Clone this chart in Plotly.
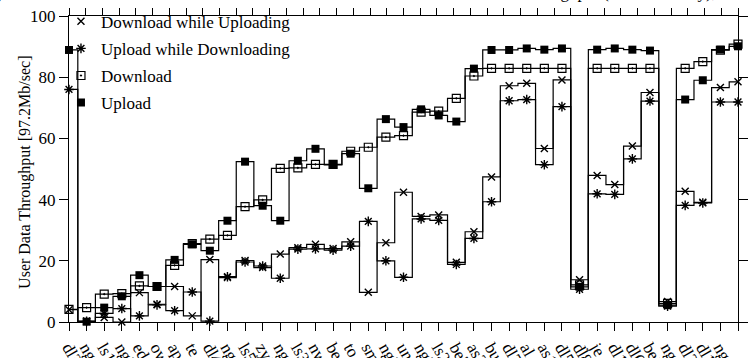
import plotly.graph_objects as go

categories = ["dl3","ng10","ls1","ng7","ed","owrt","ap","te","dl4","ng6","ls5","zy1","ng8","ls3",
              "nw1","be4","to","smc","ng3","un1","ng2","ls2","be3","as2","bu1","dl7","al","as1",
              "dl5","dl8","je","dl1","dl6","be1","ng4","dl2","dl11","ng1","we"]

download_while_uploading = [4.0, 0.3, 1.5, 0.0, 9.6, 5.8, 11.6, 2.0, 20.4, 14.5, 20.1, 17.8, 22.2, 24.3,
                            25.4, 24.0, 26.2, 9.7, 25.9, 42.4, 34.5, 35.0, 19.5, 29.5, 47.4, 77.2, 78.0, 56.7,
                            79.1, 13.8, 47.9, 44.9, 57.5, 75.0, 6.7, 42.7, 39.1, 76.6, 78.5]
upload_while_downloading = [76.0, 0.2, 2.8, 4.4, 2.0, 5.6, 3.7, 9.8, 0.3, 14.8, 19.6, 18.3, 14.3, 23.8,
                            23.9, 23.5, 24.8, 32.9, 20.0, 14.6, 33.7, 33.2, 18.8, 27.3, 39.3, 72.3, 72.7, 51.4,
                            70.4, 10.7, 41.9, 41.7, 53.3, 72.2, 5.2, 38.1, 38.9, 71.9, 71.9]
download = [4.1, 4.7, 9.1, 9.3, 11.8, 11.6, 18.5, 25.6, 27.1, 28.3, 37.7, 39.9, 50.2, 50.4,
            51.5, 51.5, 55.8, 57.1, 60.4, 60.9, 68.6, 68.9, 73.1, 80.4, 82.9, 82.9, 82.9, 82.9,
            82.9, 12.1, 82.9, 82.9, 82.9, 82.9, 6.1, 82.9, 85.1, 88.8, 90.8]
upload = [88.9, 0.1, 4.7, 8.4, 15.3, 11.6, 20.3, 25.4, 23.3, 33.1, 52.4, 38.0, 33.1, 52.7,
          56.6, 51.3, 55.0, 43.7, 66.3, 63.7, 69.5, 67.5, 65.5, 82.8, 88.9, 88.9, 89.4, 89.0,
          89.4, 11.5, 89.0, 89.4, 89.0, 88.7, 5.5, 72.7, 79.0, 89.0, 90.1]

series_names = ["Download while Uploading", "Upload while Downloading", "Download", "Upload"]
y_ticks = [0, 20, 40, 60, 80, 100]
y_title = "User Data Throughput [97.2Mb/sec]"
chart_title = ("Symmetric Simultaneous Bidirectional Transfers Across All Links: "
               "User Data Throughput (Wireless Only),")

FONT = "Liberation Serif, Times New Roman, serif"
xs = list(range(len(categories)))

styles = [
    dict(symbol="x-thin-open", size=7, line=dict(width=1.4, color="black"), color="black"),
    dict(symbol="asterisk-open", size=8, line=dict(width=1.4, color="black"), color="black"),
    dict(symbol="square-open-dot", size=8, line=dict(width=1.2, color="black"), color="black"),
    dict(symbol="square", size=8, line=dict(width=0, color="black"), color="black"),
]
data = [download_while_uploading, upload_while_downloading, download, upload]

fig = go.Figure()
for name, vals, st in zip(series_names, data, styles):
    fig.add_trace(go.Scatter(
        x=xs, y=vals, mode="lines+markers", line=dict(shape="hvh", color="black", width=1.2),
        marker=st, showlegend=False, name=name, cliponaxis=False))
for i, (name, st) in enumerate(zip(series_names, styles)):
    fig.add_trace(go.Scatter(x=[None], y=[None], mode="markers", marker=st, name=name,
                             legendgroup=f"g{i}", showlegend=True))
# dummy trace for the top (mirror) axis
fig.add_trace(go.Scatter(x=[None], y=[None], xaxis="x2", showlegend=False))

fig.update_layout(
    width=751, height=358,
    margin=dict(l=69, r=13, t=16, b=36, autoexpand=False),
    paper_bgcolor="white", plot_bgcolor="white",
    font=dict(family=FONT, size=17, color="black"),
    showlegend=True,
    legend=dict(x=-0.012, y=1.040, xanchor="left", yanchor="top", bgcolor="rgba(0,0,0,0)",
                font=dict(size=17), tracegroupgap=2, itemsizing="trace", traceorder="grouped"),
    xaxis=dict(range=[0, len(categories) - 1], tickmode="array", tickvals=xs, ticktext=categories,
               tickangle=60, ticks="outside", ticklen=8, tickcolor="black", showline=True,
               linecolor="black", linewidth=1, mirror=True, showgrid=False, zeroline=False,
               automargin=False, tickfont=dict(size=17)),
    xaxis2=dict(overlaying="x", side="top", range=[0, 40], dtick=1, tick0=0, ticks="outside",
                ticklen=7, tickcolor="black", showticklabels=False, showline=True, linecolor="black",
                showgrid=False, zeroline=False, automargin=False),
    yaxis=dict(range=[0, 100], tickvals=y_ticks, ticks="outside", ticklen=9, tickcolor="black",
               showline=True, linecolor="black", linewidth=1, mirror="ticks", showgrid=False,
               zeroline=False, automargin=False, tickfont=dict(size=17)),
    annotations=[
        dict(text=chart_title, xref="paper", yref="paper", x=-0.125, y=1, xanchor="left",
             yanchor="bottom", yshift=12, showarrow=False, font=dict(size=17)),
        dict(text=y_title, xref="paper", yref="paper", x=-0.066, y=0.49, xanchor="center",
             yanchor="middle", textangle=-90, showarrow=False, font=dict(size=16)),
    ],
)

fig.write_html("out.html", post_script="document.body.style.margin='0';",
               config={"displayModeBar": False})
